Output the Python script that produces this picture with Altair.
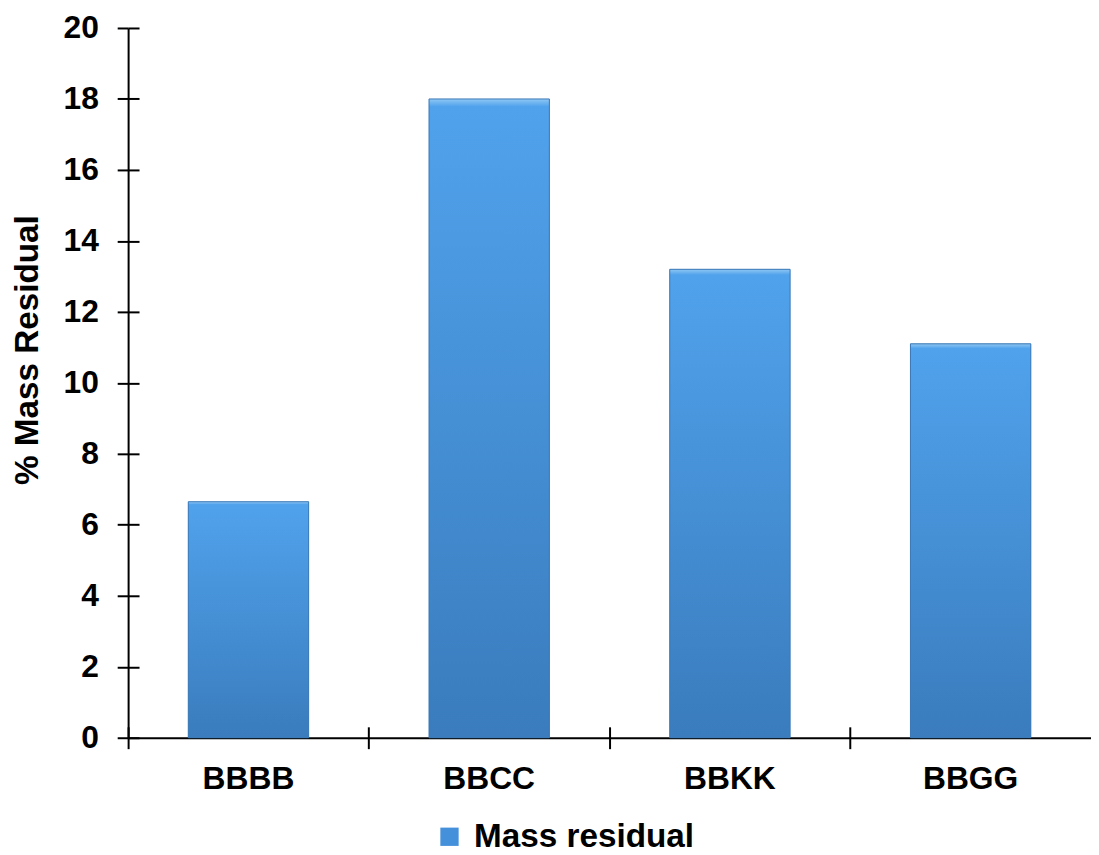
import altair as alt
import pandas as pd

categories = ["BBBB", "BBCC", "BBKK", "BBGG"]
values = [6.65, 18.0, 13.2, 11.1]
series = ["Mass residual", "Mass residual", "Mass residual", "Mass residual"]
y_ticks = [0, 2, 4, 6, 8, 10, 12, 14, 16, 18, 20]

df = pd.DataFrame({"cat": categories, "val": values, "series": series})

FONT = "Liberation Sans"
FS = 32

xscale = alt.Scale(paddingInner=0, paddingOuter=0)
yscale = alt.Scale(domain=[0, 20], nice=False)

base = alt.Chart(df).mark_bar(width=alt.RelativeBandSize(0.5)).encode(
    x=alt.X("cat:N", sort=categories, scale=xscale,
            axis=alt.Axis(title=None, bandPosition=0, tickSize=11,
                          tickWidth=2, tickColor="black", domainColor="black", domainWidth=2,
                          labelFontSize=FS, labelFont=FONT, labelFontWeight="bold",
                          labelColor="black", labelPadding=15, labelAngle=0, grid=False)),
    y=alt.Y("val:Q", scale=yscale,
            axis=alt.Axis(values=y_ticks, title="% Mass Residual", tickSize=11, tickWidth=2,
                          tickColor="black", domainColor="black", domainWidth=2,
                          labelFontSize=FS, labelFont=FONT, labelFontWeight="bold",
                          labelColor="black", labelPadding=19, grid=False,
                          titleFontSize=33.5, titleFont=FONT, titleFontWeight="bold",
                          titleColor="black", titleAngle=-90, titleX=-91, titleY=324,
                          titleAlign="center", titleBaseline="alphabetic")),
    color=alt.Color("series:N", scale=alt.Scale(range=["#4590da"]),
                    legend=alt.Legend(title=None, orient="none", legendX=307, legendY=798,
                                      symbolType="square", symbolSize=340,
                                      labelFontSize=33.5, labelFont=FONT, labelFontWeight="bold",
                                      labelColor="black", symbolStrokeWidth=0, labelLimit=500,
                                      labelOffset=8, padding=0)),
)

grad = alt.Gradient(
    gradient="linear",
    stops=[
        alt.GradientStop(offset=0, color="#8fc7f4"),
        alt.GradientStop(offset=0.012, color="#50a2ec"),
        alt.GradientStop(offset=1, color="#3a7cbd"),
    ],
    x1=0, x2=0, y1=0, y2=1,
)

over = alt.Chart(df).mark_bar(width=alt.RelativeBandSize(0.5), fill=grad,
                              stroke="#3b78b5", strokeWidth=1).encode(
    x=alt.X("cat:N", sort=categories, scale=xscale,
            axis=alt.Axis(title=None, bandPosition=0, labels=False, domain=False,
                          tickSize=11, tickWidth=2, tickColor="black", offset=-11,
                          orient="bottom", grid=False)),
    y=alt.Y("val:Q", scale=yscale,
            axis=alt.Axis(values=y_ticks, title=None, labels=False, domain=False,
                          tickSize=11, tickWidth=2, tickColor="black", offset=-11,
                          orient="left", grid=False)),
)

chart = alt.layer(base, over).resolve_axis(x="independent", y="independent").properties(
    width=970, height=715,
    autosize=alt.AutoSizeParams(type="none"),
    padding={"left": 121, "top": 17, "right": 0, "bottom": 115},
    background="white",
).configure_view(stroke=None)

chart.save("out.html", embed_options={"renderer": "svg", "actions": False})
